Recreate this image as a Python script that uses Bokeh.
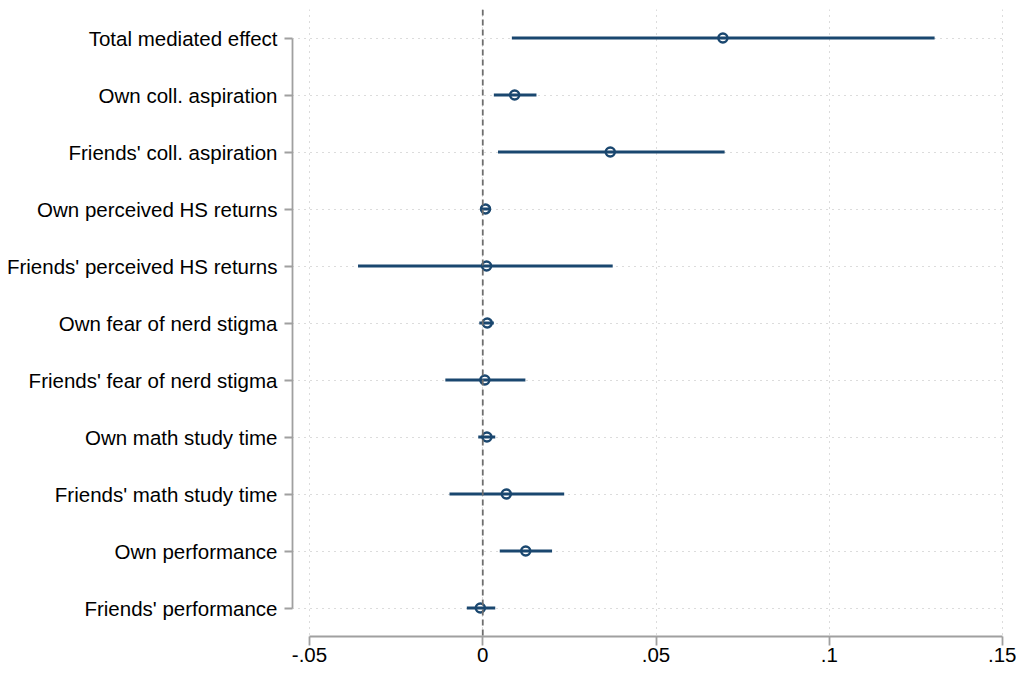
from bokeh.plotting import figure
from bokeh.models import Range1d, FixedTicker, Span, ColumnDataSource
from bokeh.embed import file_html
from bokeh.resources import INLINE

labels = ["Total mediated effect", "Own coll. aspiration", "Friends' coll. aspiration",
          "Own perceived HS returns", "Friends' perceived HS returns", "Own fear of nerd stigma",
          "Friends' fear of nerd stigma", "Own math study time", "Friends' math study time",
          "Own performance", "Friends' performance"]
est = [0.0693, 0.0092, 0.0368, 0.0008, 0.0011, 0.0013, 0.0006, 0.0012, 0.0068, 0.0124, -0.0007]
lo = [0.0084, 0.0032, 0.0044, -0.0008, -0.0360, -0.0010, -0.0108, -0.0013, -0.0096, 0.0049, -0.0046]
hi = [0.1304, 0.0155, 0.0698, 0.0020, 0.0375, 0.0032, 0.0123, 0.0036, 0.0235, 0.0200, 0.0036]
xticks = [-0.05, 0, 0.05, 0.1, 0.15]
xtick_labels = ["-.05", "0", ".05", ".1", ".15"]

pos = list(range(1, len(labels) + 1))
src = ColumnDataSource(dict(y=pos, est=est, lo=lo, hi=hi))

FONT = "Liberation Sans"
AX = "#a0a0a0"
NAVY = "#1a476f"

p = figure(width=1016, height=666, output_backend="svg", toolbar_location=None,
           x_range=Range1d(-0.05491, 0.15115), y_range=Range1d(11.5, 0.5),
           min_border_left=292, min_border_right=10, min_border_top=9, min_border_bottom=30)
p.outline_line_color = None
p.background_fill_color = "white"

# axes
p.xaxis.ticker = FixedTicker(ticks=xticks)
p.xaxis.major_label_overrides = {t: l for t, l in zip(xticks, xtick_labels)}
p.xaxis.bounds = (xticks[0], xticks[-1])
p.yaxis.ticker = FixedTicker(ticks=pos)
p.yaxis.major_label_overrides = {i: l for i, l in zip(pos, labels)}
p.yaxis.bounds = (pos[0], pos[-1])
for ax in (p.xaxis, p.yaxis):
    ax.axis_line_color = AX
    ax.axis_line_width = 1.8
    ax.major_tick_line_color = AX
    ax.major_tick_line_width = 1.8
    ax.major_tick_in = 0
    ax.minor_tick_line_color = None
    ax.major_label_text_font = FONT
    ax.major_label_text_font_size = "20.5px"
    ax.major_label_text_color = "black"
p.xaxis.major_tick_out = 9
p.xaxis.major_label_standoff = 2
p.yaxis.major_tick_out = 8
p.yaxis.major_label_standoff = 7

# grids
for g in (p.xgrid, p.ygrid):
    g.grid_line_color = "#b8b8b8"
    g.grid_line_dash = "1 5"
    g.grid_line_width = 1
p.xgrid.ticker = FixedTicker(ticks=xticks)
p.ygrid.ticker = FixedTicker(ticks=pos)

p.add_layout(Span(location=0, dimension="height", line_color="#6e6e6e",
                  line_dash="6 4", line_width=1.8))

p.segment(x0="lo", x1="hi", y0="y", y1="y", source=src, line_color=NAVY, line_width=2.8)
p.scatter(x="est", y="y", source=src, size=9, marker="circle", fill_color=None,
          line_color=NAVY, line_width=2.5)

open("out.html", "w").write(file_html(p, INLINE))
